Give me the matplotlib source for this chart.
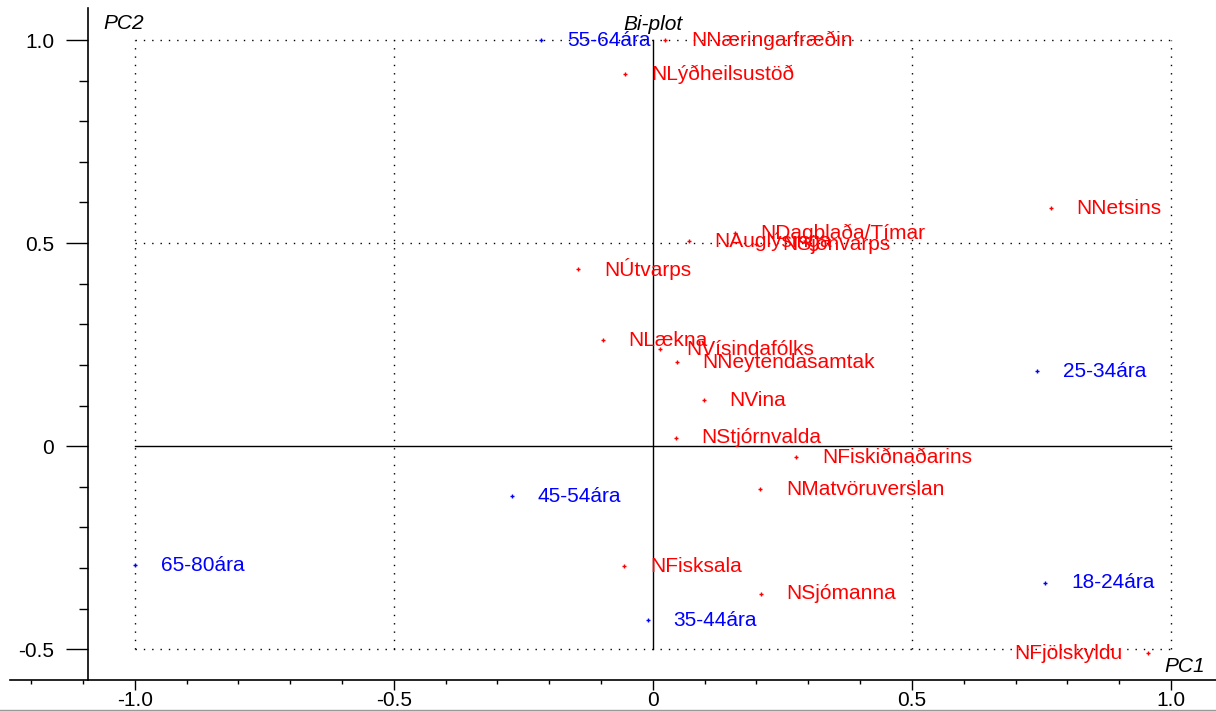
import matplotlib
matplotlib.use("Agg")
from matplotlib import pyplot as plt
from matplotlib.ticker import MultipleLocator
from matplotlib.lines import Line2D

plt.rcParams['font.family'] = ['Liberation Sans', 'DejaVu Sans']

# age groups (blue)
age_names = ['18-24ára', '25-34ára', '35-44ára', '45-54ára', '55-64ára', '65-80ára']
age_pc1 = [0.757, 0.741, -0.010, -0.272, -0.216, -1.000]
age_pc2 = [-0.337, 0.185, -0.429, -0.123, 1.000, -0.293]

# variables (red)
var_names = ['NNæringarfræðin', 'NLýðheilsustöð', 'NNetsins', 'NDagblaða/Tímar',
             'NAuglýsinga', 'NSjónvarps', 'NÚtvarps', 'NLækna', 'NVísindafólks',
             'NNeytendasamtak', 'NVina', 'NStjórnvalda', 'NFiskiðnaðarins',
             'NMatvöruverslan', 'NFisksala', 'NSjómanna', 'NFjölskyldu']
var_pc1 = [0.023, -0.054, 0.768, 0.158, 0.069, 0.200, -0.145, -0.097, 0.014,
           0.046, 0.098, 0.044, 0.276, 0.207, -0.056, 0.208, 0.956]
var_pc2 = [1.000, 0.916, 0.586, 0.525, 0.505, 0.497, 0.436, 0.261, 0.239,
           0.207, 0.113, 0.020, -0.027, -0.106, -0.296, -0.364, -0.510]

left_labels = ['NFjölskyldu']

fig = plt.figure(figsize=(12.16, 7.11), dpi=100)
ax = fig.add_axes([10 / 1216, 31 / 711, 1206 / 1216, 672 / 711])
ax.set_xlim(-1.241, 1.087)
ax.set_ylim(-0.576, 1.079)

# spines
ax.spines['top'].set_visible(False)
ax.spines['right'].set_visible(False)
ax.spines['left'].set_position(('data', -1.091))
for s in ['left', 'bottom']:
    ax.spines[s].set_linewidth(1.2)

ax.xaxis.set_major_locator(MultipleLocator(0.5))
ax.xaxis.set_minor_locator(MultipleLocator(0.1))
ax.yaxis.set_major_locator(MultipleLocator(0.5))
ax.yaxis.set_minor_locator(MultipleLocator(0.1))
ax.tick_params(axis='x', which='major', length=7, width=1, pad=1, labelsize=15)
ax.tick_params(axis='x', which='minor', length=3, width=1)
ax.tick_params(axis='y', which='major', length=16, width=1, pad=8, labelsize=15)
ax.tick_params(axis='y', which='minor', length=6.5, width=1)


def fmt(v, pos=None):
    if abs(v) < 1e-9:
        return '0'
    return '%.1f' % v


ax.xaxis.set_major_formatter(fmt)
ax.yaxis.set_major_formatter(fmt)
ax.set_xticks([-1.0, -0.5, 0, 0.5, 1.0])
ax.set_yticks([-0.5, 0, 0.5, 1.0])

# dotted grid box and solid cross
dots = dict(color='black', linestyle=(0, (1, 5)), linewidth=1)
for g in [-1.0, -0.5, 0.5, 1.0]:
    ax.plot([g, g], [-0.5, 1.0], **dots)
for g in [-0.5, 0.5, 1.0]:
    ax.plot([-1.0, 1.0], [g, g], **dots)
ax.plot([0, 0], [-0.5, 1.0], color='black', linewidth=1)
ax.plot([-1.0, 1.0], [0, 0], color='black', linewidth=1)

# points and labels
ax.plot(age_pc1, age_pc2, '+', color='blue', markersize=3, mew=1)
ax.plot(var_pc1, var_pc2, '+', color='red', markersize=3, mew=1)
for name, px, py in zip(age_names, age_pc1, age_pc2):
    ax.annotate(name, (px, py), xytext=(26, 0), textcoords='offset pixels',
                color='blue', fontsize=15, va='center', ha='left')
for name, px, py in zip(var_names, var_pc1, var_pc2):
    if name in left_labels:
        ax.annotate(name, (px, py), xytext=(-26, 0), textcoords='offset pixels',
                    color='red', fontsize=15, va='center', ha='right')
    else:
        ax.annotate(name, (px, py), xytext=(26, 0), textcoords='offset pixels',
                    color='red', fontsize=15, va='center', ha='left')

ax.text(-1.06, 1.04, 'PC2', style='italic', fontsize=15, va='center', ha='left')
ax.text(0, 1.038, 'Bi-plot', style='italic', fontsize=15, va='center', ha='center')
ax.text(1.065, -0.542, 'PC1', style='italic', fontsize=15, va='center', ha='right')

fig.add_artist(Line2D([0, 1], [0.0015, 0.0015], color='#999999', linewidth=1))

fig.savefig('out.png', dpi=100)
